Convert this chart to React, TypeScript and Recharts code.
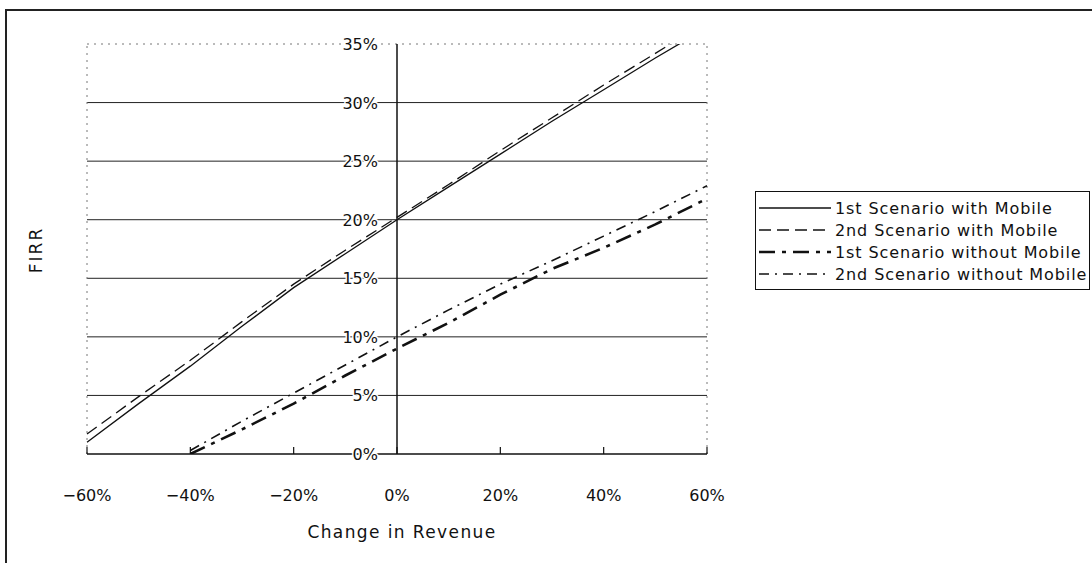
import { LineChart, Line, XAxis, YAxis, ReferenceLine } from "recharts";

const changeInRevenue = [-60, -50, -40, -30, -20, -10, 0, 10, 20, 30, 40, 50, 60];
const firstWithMobile = [1.0, 4.3, 7.5, 10.9, 14.2, 17.1, 20.0, 22.8, 25.6, 28.4, 31.1, 33.8, 36.4];
const secondWithMobile = [1.7, 4.9, 8.0, 11.3, 14.5, 17.4, 20.2, 23.0, 25.9, 28.7, 31.5, 34.2, 36.9];
const firstWithoutMobile = [null, null, 0, 2.1, 4.3, 6.7, 9.0, 11.2, 13.6, 15.8, 17.6, 19.6, 21.8];
const secondWithoutMobile = [null, null, 0.3, 2.8, 5.2, 7.6, 10.0, 12.3, 14.5, 16.5, 18.6, 20.7, 22.9];

const xTicks = [-60, -40, -20, 0, 20, 40, 60];
const yTicks = [0, 5, 10, 15, 20, 25, 30, 35];
const gridLines = [5, 10, 15, 20, 25, 30];

const series = [
  { key: "s1", name: "1st Scenario with Mobile", dash: undefined, width: 1.3 },
  { key: "s2", name: "2nd Scenario with Mobile", dash: "12 6", width: 1.3 },
  { key: "s3", name: "1st Scenario without Mobile", dash: "16 7 4 7", width: 2.6 },
  { key: "s4", name: "2nd Scenario without Mobile", dash: "10 6 2 6", width: 1.6 },
];

const data = changeInRevenue.map((x, i) => ({
  x,
  s1: firstWithMobile[i],
  s2: secondWithMobile[i],
  s3: firstWithoutMobile[i],
  s4: secondWithoutMobile[i],
}));

const font = '"DejaVu Sans", "Liberation Sans", sans-serif';
const fmt = (v: number) => `${v < 0 ? "\u2212" + Math.abs(v) : v}%`;

// y labels sit next to the 0% axis, not at the plot's left edge
const YTick = (props: any) => {
  const { x, y, payload } = props;
  return (
    <text x={x + 291} y={y + 6} textAnchor="end" fontSize={16} fontFamily={font} fill="#111" stroke="#fff" strokeWidth={3} paintOrder="stroke">
      {payload.value}%
    </text>
  );
};

const XTick = (props: any) => {
  const { x, y, payload } = props;
  return (
    <g>
      <line x1={x} x2={x} y1={y} y2={y - 7} stroke="#111" strokeWidth={1.2} />
      <text x={x} y={y + 47} textAnchor="middle" fontSize={16} fontFamily={font} fill="#111">
        {fmt(payload.value)}
      </text>
    </g>
  );
};

function LegendBox() {
  return (
    <div
      style={{
        position: "absolute",
        left: 755,
        top: 191,
        width: 333,
        border: "1.5px solid #111",
        background: "#fff",
        padding: "5px 0 4px 0",
        fontFamily: font,
        fontSize: 16,
        letterSpacing: 0.9,
        color: "#111",
      }}
    >
      {series.map((s) => (
        <div key={s.key} style={{ display: "flex", alignItems: "center", height: 22 }}>
          <svg width={76} height={10} style={{ marginLeft: 3 }}>
            <line x1={0} x2={72} y1={5} y2={5} stroke="#111" strokeWidth={s.width} strokeDasharray={s.dash} />
          </svg>
          <span style={{ whiteSpace: "nowrap" }}>{s.name}</span>
        </div>
      ))}
    </div>
  );
}

export default function App() {
  return (
    <div style={{ position: "absolute", left: 0, top: 0, width: 1092, height: 563, background: "#fff", overflow: "hidden" }}>
      <div
        style={{
          position: "absolute",
          left: 5,
          top: 9,
          right: 0,
          bottom: 0,
          borderTop: "2px solid #222",
          borderLeft: "2px solid #222",
        }}
      />
      <div style={{ position: "absolute", left: 0, top: 0 }}>
        <LineChart width={1092} height={563} data={data} margin={{ top: 44, right: 385, bottom: 79, left: 27 }}>
          <XAxis
            dataKey="x"
            type="number"
            domain={[-60, 60]}
            ticks={xTicks}
            tick={<XTick />}
            tickLine={false}
            tickSize={0}
            tickMargin={0}
            axisLine={{ stroke: "#111", strokeWidth: 1.5 }}
            height={30}
          />
          <YAxis
            type="number"
            domain={[0, 35]}
            ticks={yTicks}
            allowDataOverflow
            tick={<YTick />}
            tickLine={false}
            tickSize={0}
            tickMargin={0}
            axisLine={false}
            width={60}
          />
          {gridLines.map((g) => (
            <ReferenceLine key={g} y={g} stroke="#222" strokeWidth={1} />
          ))}
          <ReferenceLine y={35} stroke="#777" strokeDasharray="2 5" />
          <ReferenceLine x={-60} stroke="#777" strokeDasharray="2 5" />
          <ReferenceLine x={60} stroke="#777" strokeDasharray="2 5" />
          <ReferenceLine x={0} stroke="#111" strokeWidth={1.5} />
          {series.map((s) => (
            <Line
              key={s.key}
              dataKey={s.key}
              name={s.name}
              type="linear"
              stroke="#111"
              strokeWidth={s.width}
              strokeDasharray={s.dash}
              dot={false}
              activeDot={false}
              isAnimationActive={false}
            />
          ))}
        </LineChart>
      </div>
      <LegendBox />
      <div
        style={{
          position: "absolute",
          left: 402,
          top: 522,
          transform: "translateX(-50%)",
          fontFamily: font,
          fontSize: 17,
          letterSpacing: 1.4,
          color: "#111",
          whiteSpace: "nowrap",
        }}
      >
        Change in Revenue
      </div>
      <div
        style={{
          position: "absolute",
          left: 36,
          top: 250,
          transform: "translate(-50%, -50%) rotate(-90deg)",
          fontFamily: font,
          fontSize: 17,
          letterSpacing: 2,
          color: "#111",
        }}
      >
        FIRR
      </div>
    </div>
  );
}
